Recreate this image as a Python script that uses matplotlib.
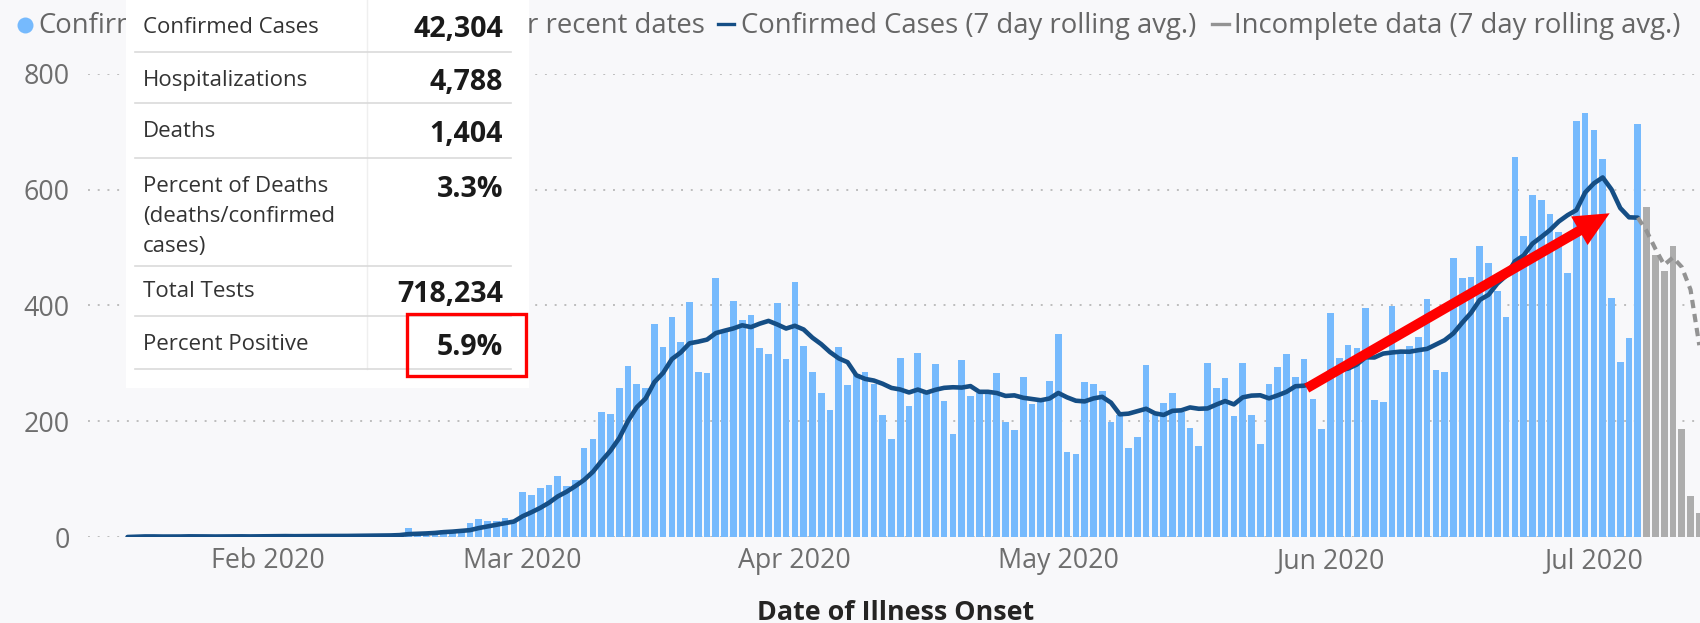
import numpy as np
import pandas as pd
import matplotlib
matplotlib.use('Agg')
import matplotlib.pyplot as plt
from matplotlib.patches import Rectangle, Polygon
from matplotlib.lines import Line2D
from matplotlib.transforms import IdentityTransform

plt.rcParams['font.family'] = ['Open Sans', 'DejaVu Sans']

# daily confirmed cases by date of illness onset, starting 16 Jan 2020
first_day = '2020-01-16'
cases_jan = [0, 1, 2, 1, 0, 1, 1, 2, 1, 1, 0, 1, 2, 1, 1, 2]
cases_feb = [2, 1, 2, 1, 2, 3, 1, 2, 1, 3, 2, 4, 3, 2, 4, 5,
             15, 6, 8, 9, 12, 10, 14, 24, 31, 28, 28, 32, 30]
cases_mar = [78, 72, 84, 90, 105, 88, 98, 153, 170, 216,
             213, 257, 295, 265, 258, 368, 328, 380, 336, 406,
             285, 283, 447, 357, 407, 374, 384, 327, 316, 404, 308]
cases_apr = [440, 329, 285, 249, 220, 328, 262, 282, 285,
             265, 210, 170, 309, 226, 317, 248, 299, 234, 177, 305,
             244, 248, 248, 284, 199, 184, 276, 229, 233, 269]
cases_may = [351, 146, 143, 268, 265, 252, 199, 210, 154, 173, 297,
             210, 232, 249, 216, 189, 157, 301, 257, 274, 209,
             301, 210, 161, 264, 294, 316, 276, 308, 238, 186]
cases_jun = [386, 309, 332, 326, 395, 236, 233, 399, 320, 330,
             345, 411, 289, 285, 482, 448, 449, 502, 473, 424,
             380, 657, 519, 591, 582, 558, 527, 456, 718, 732]
cases_jul = [702, 653, 413, 302, 344, 714]
# incomplete data for recent dates (7 Jul - 13 Jul)
cases_incomplete = [570, 487, 459, 503, 187, 70, 42]

month_ticks = ['2020-02-01', '2020-03-01', '2020-04-01', '2020-05-01', '2020-06-01', '2020-07-01']
# legend entries; the summary panel hides the middle of the first two
legend_visible = ['Confirm', 'r recent dates',
                  'Confirmed Cases (7 day rolling avg.)', 'Incomplete data (7 day rolling avg.)']

summary_labels = ['Confirmed Cases', 'Hospitalizations', 'Deaths',
                  'Percent of Deaths\n(deaths/confirmed\ncases)', 'Total Tests', 'Percent Positive']
summary_values = ['42,304', '4,788', '1,404', '3.3%', '718,234', '5.9%']

# arrow drawn over the chart (date, value)
arrow_start = ('2020-05-29 07:00', 257)
arrow_tip = ('2020-07-02 19:00', 559)

cases = cases_jan + cases_feb + cases_mar + cases_apr + cases_may + cases_jun + cases_jul
n_done = len(cases)
dates = pd.date_range(first_day, periods=n_done + len(cases_incomplete), freq='D')
series = pd.Series(cases + cases_incomplete, index=dates, dtype=float)
rolling = series.rolling(7, min_periods=1).mean()

W, H = 1700, 623
BG = '#F8F8FA'
BLUE = '#76BAFD'
NAVY = '#154E85'
GREY_BAR = '#ADADAD'
GREY_LINE = '#939393'


def fx(x):
    return x / W


def fy(y):
    return 1 - y / H


fig = plt.figure(figsize=(W / 100, H / 100), dpi=100)
fig.patch.set_facecolor(BG)
ax = fig.add_axes([fx(88), fy(537), (W - 88) / W, (537 - 73.7) / H])
ax.set_facecolor(BG)

ax.bar(dates[:n_done], cases, width=0.76, color=BLUE, zorder=2)
ax.bar(dates[n_done:], cases_incomplete, width=0.76, color=GREY_BAR, zorder=2)
ax.plot(dates[:n_done], rolling.iloc[:n_done], color=NAVY, lw=3.3, zorder=3,
        solid_capstyle='round', solid_joinstyle='round')
ax.plot(dates[n_done - 1:], rolling.iloc[n_done - 1:], color=GREY_LINE, lw=3,
        ls=(0, (2.0, 1.4)), zorder=3)

feb1 = matplotlib.dates.date2num(pd.Timestamp('2020-02-01'))
ax.set_xlim(feb1 - 20.5, feb1 + 163.08)
ax.set_ylim(0, 800)
ax.set_yticks([0, 200, 400, 600, 800])
ticks = pd.to_datetime(month_ticks)
ax.set_xticks(ticks)
ax.set_xticklabels([t.strftime('%b %Y') for t in ticks])
ax.grid(axis='y', ls=(0, (1, 4)), color='#BDBDBD', lw=1.4)
ax.grid(axis='x', visible=False)
ax.set_axisbelow(True)
for s in ax.spines.values():
    s.set_visible(False)
ax.tick_params(axis='both', length=0, labelsize=19.3, labelcolor='#6E6E6E')
ax.tick_params(axis='y', pad=13)
ax.tick_params(axis='x', pad=7)

fig.text(fx(896), fy(620), 'Date of Illness Onset', ha='center', va='baseline',
         fontsize=19.4, fontweight='bold', color='#252423')

# legend row
leg_size = 19.8
leg_col = '#666666'
fig.add_artist(Line2D([fx(25)], [fy(25)], marker='o', ms=11.5, color=BLUE, mec='none',
                      transform=fig.transFigure, zorder=1))
fig.text(fx(38), fy(33), legend_visible[0], va='baseline', fontsize=leg_size, color=leg_col, zorder=1)
fig.text(fx(705), fy(33), legend_visible[1], ha='right', va='baseline', fontsize=leg_size,
         color=leg_col, zorder=1)
fig.add_artist(Line2D([fx(718), fx(734)], [fy(24), fy(24)], lw=2.4, color=NAVY,
                      transform=fig.transFigure, zorder=1))
fig.text(fx(741), fy(33), legend_visible[2], va='baseline', fontsize=leg_size, color=leg_col, zorder=1)
fig.add_artist(Line2D([fx(1212), fx(1229)], [fy(24), fy(24)], lw=2.4, color=GREY_LINE,
                      transform=fig.transFigure, zorder=1))
fig.text(fx(1234), fy(33), legend_visible[3], va='baseline', fontsize=leg_size, color=leg_col, zorder=1)

# summary panel
fig.add_artist(Rectangle((fx(126), fy(388)), (528.6 - 126) / W, 388 / H, transform=fig.transFigure,
                         facecolor='white', edgecolor='none', zorder=5))
fig.add_artist(Line2D([fx(367), fx(367)], [fy(0), fy(369)], lw=1.0, color='#EFEFEF',
                      transform=fig.transFigure, zorder=6))
label_base = [33.3, 86, 136.7, 191.7, 296.7, 350]
value_base = [37.3, 90, 141.7, 196.7, 301.7, 355]
line_gap = 30
separators = [52, 103, 158, 266, 316, 369]
for lab, val, lb, vb, sep in zip(summary_labels, summary_values, label_base, value_base, separators):
    for k, part in enumerate(lab.split('\n')):
        fig.text(fx(143), fy(lb + k * line_gap), part, va='baseline', fontsize=16,
                 color='#333333', zorder=6)
    fig.text(fx(503), fy(vb), val, ha='right', va='baseline', fontsize=20.5, fontweight='bold',
             color='#1A1A1A', zorder=6)
    fig.add_artist(Line2D([fx(135), fx(511)], [fy(sep), fy(sep)], lw=1.2, color='#DADADA',
                          transform=fig.transFigure, zorder=6))

# red highlight box around percent positive
fig.add_artist(Rectangle((fx(406.6), fy(376.4)), (526 - 406.6) / W, (376.4 - 313.6) / H,
                         transform=fig.transFigure, facecolor='none', edgecolor='#FF0000',
                         lw=2.4, zorder=7))

# red arrow, built in pixel space
p0 = ax.transData.transform((matplotlib.dates.date2num(pd.Timestamp(arrow_start[0])), arrow_start[1]))
p1 = ax.transData.transform((matplotlib.dates.date2num(pd.Timestamp(arrow_tip[0])), arrow_tip[1]))
u = (p1 - p0) / np.hypot(*(p1 - p0))
n = np.array([-u[1], u[0]])
shaft, head_w, head_l = 10, 33, 35
base = p1 - u * head_l
verts = [p0 + n * shaft / 2, base + n * shaft / 2, base + n * head_w / 2, p1,
         base - n * head_w / 2, base - n * shaft / 2, p0 - n * shaft / 2]
fig.add_artist(Polygon(verts, closed=True, transform=IdentityTransform(),
                       facecolor='#FF0000', edgecolor='none', zorder=8))

fig.savefig('out.png', dpi=100, facecolor=BG)
